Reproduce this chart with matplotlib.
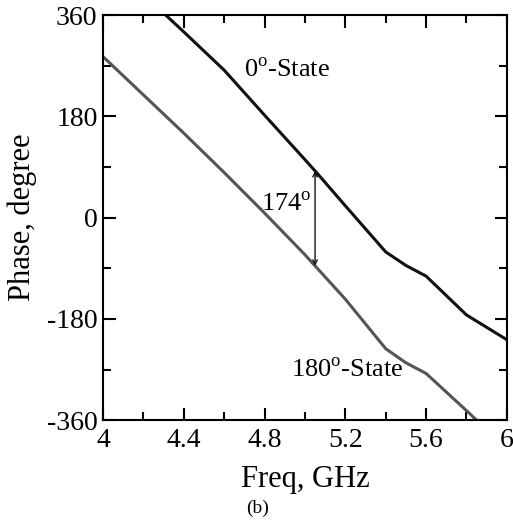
import numpy as np
import matplotlib
matplotlib.use("Agg")
import matplotlib.pyplot as plt
from matplotlib.ticker import MultipleLocator

plt.rcParams['font.family'] = ['Liberation Serif', 'DejaVu Serif']
plt.rcParams['mathtext.fontset'] = 'custom'
plt.rcParams['mathtext.rm'] = 'Liberation Serif'

# phase of the two states
freq_0 = [4.2, 4.31, 4.4, 4.6, 4.8, 5.0, 5.06, 5.2, 5.4, 5.5, 5.6, 5.8, 6.0]
phase_0 = [397, 360, 330, 262, 182, 103, 79, 21, -61, -85, -104, -173, -217]

freq_180 = [4.0, 4.2, 4.4, 4.6, 4.8, 5.0, 5.2, 5.4, 5.5, 5.6, 5.8, 5.9]
phase_180 = [286, 218, 150, 80, 8, -66, -145, -233, -258, -277, -343, -377]

arrow_f = 5.05

fig = plt.figure(figsize=(5.13, 5.20), dpi=100)
ax = fig.add_axes([0.201, 0.192, 0.787, 0.779])

ax.plot(freq_0, phase_0, color='#111111', lw=2.2)
ax.plot(freq_180, phase_180, color='#555555', lw=2.2)

top = np.interp(arrow_f, freq_0, phase_0)
bot = np.interp(arrow_f, freq_180, phase_180)
ax.annotate('', xy=(arrow_f, bot), xytext=(arrow_f, top),
            arrowprops=dict(arrowstyle='<->', lw=1, color='#111111',
                            shrinkA=0, shrinkB=0, mutation_scale=8))

ax.text(4.70, 262, r'0$^{\rm o}$-State', fontsize=19, va='center', ha='left')
ax.text(5.03, 24, r'174$^{\rm o}$', fontsize=19, va='center', ha='right')
ax.text(4.93, -271, r'180$^{\rm o}$-State', fontsize=19, va='center', ha='left')

ax.set_xlim(4, 6)
ax.set_ylim(-360, 360)
ax.xaxis.set_minor_locator(MultipleLocator(0.2))
ax.yaxis.set_minor_locator(MultipleLocator(90))
ax.set_xticks([4, 4.4, 4.8, 5.2, 5.6, 6])
ax.set_xticklabels(['4', '4.4', '4.8', '5.2', '5.6', '6'])
ax.set_yticks([-360, -180, 0, 180, 360])
ax.set_yticklabels(['-360', '-180', '0', '180', '360'])
ax.tick_params(which='both', direction='in', top=True, right=True,
               labelsize=20, width=1.5)
ax.tick_params(axis='x', pad=6)
ax.tick_params(axis='y', pad=4)
ax.tick_params(which='major', length=9)
ax.tick_params(which='minor', length=6)
for s in ax.spines.values():
    s.set_linewidth(1.5)

ax.set_xlabel('Freq, GHz', fontsize=22, labelpad=8)
ax.set_ylabel('Phase, degree', fontsize=22, labelpad=7)
fig.text(0.503, 0.023, '(b)', fontsize=14, ha='center', va='center')

fig.savefig('out.png', dpi=100)
